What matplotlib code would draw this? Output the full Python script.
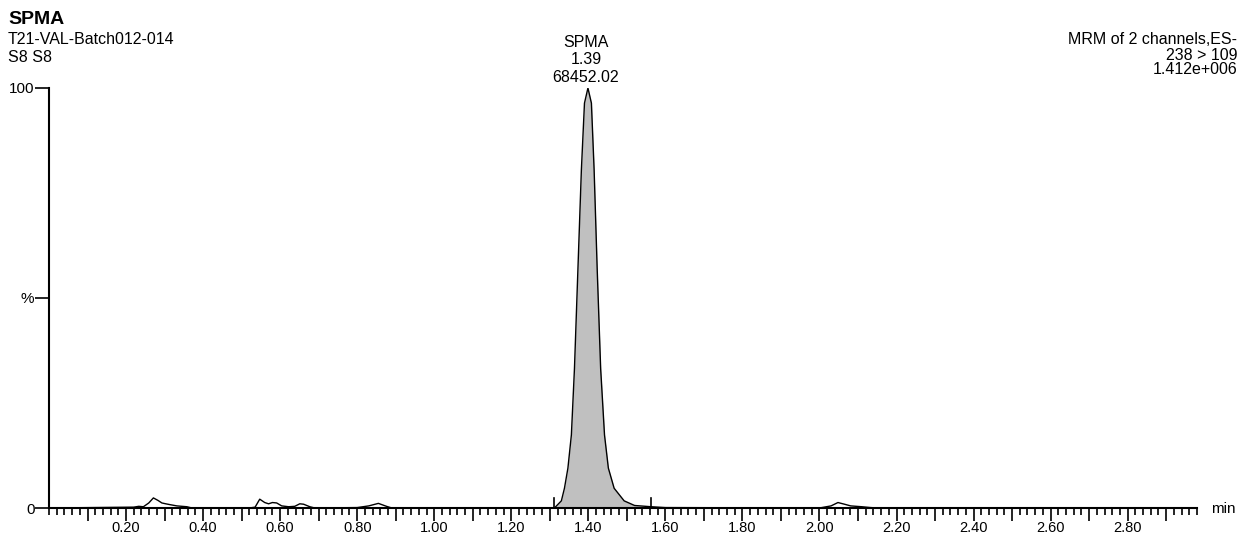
import numpy as np
import matplotlib
matplotlib.use("Agg")
import matplotlib.pyplot as plt
from matplotlib.ticker import MultipleLocator

plt.rcParams["font.family"] = ["Liberation Sans", "DejaVu Sans"]

# chromatogram trace: retention time (min) and relative intensity (%)
rt = [0.00, 0.22, 0.233, 0.245, 0.259, 0.271, 0.283, 0.293, 0.303, 0.314, 0.332,
      0.345, 0.358, 0.371, 0.52, 0.535, 0.547, 0.56, 0.570, 0.58, 0.591, 0.604,
      0.622, 0.638, 0.651, 0.661, 0.677, 0.69, 0.80, 0.83, 0.855, 0.876, 0.89,
      1.30, 1.312, 1.330, 1.338, 1.347, 1.356, 1.364, 1.373, 1.382, 1.390, 1.399,
      1.408, 1.415, 1.423, 1.432, 1.442, 1.452, 1.467, 1.493, 1.52, 1.563, 1.60,
      2.00, 2.03, 2.048, 2.065, 2.081, 2.11, 2.133, 2.15, 2.98]
intensity = [0.0, 0.2, 0.4, 0.3, 1.2, 2.4, 1.8, 1.2, 1.0, 0.8, 0.5,
             0.4, 0.3, 0.0, 0.0, 0.2, 2.1, 1.3, 1.0, 1.3, 1.2, 0.5,
             0.3, 0.4, 1.0, 0.9, 0.3, 0.0, 0.1, 0.5, 1.1, 0.4, 0.0,
             0.0, 0.0, 1.7, 4.7, 9.5, 17.4, 33.2, 56.9, 80.6, 96.4, 100.0,
             96.4, 80.6, 56.9, 33.2, 17.4, 9.5, 4.7, 1.7, 0.6, 0.3, 0.1,
             0.0, 0.5, 1.3, 0.9, 0.5, 0.3, 0.1, 0.0, 0.0]

peak_start, peak_end = 1.312, 1.563
peak_name = "SPMA"
peak_rt = "1.39"
peak_area = "68452.02"

compound = "SPMA"
sample_lines = ["T21-VAL-Batch012-014", "S8 S8"]
channel_lines = ["MRM of 2 channels,ES-", "238 > 109", "1.412e+006"]

x_labels = [0.20, 0.40, 0.60, 0.80, 1.00, 1.20, 1.40, 1.60, 1.80, 2.00,
            2.20, 2.40, 2.60, 2.80]

W, H = 1239, 536
fig = plt.figure(figsize=(W / 100, H / 100), dpi=100)
ax = fig.add_axes([49 / W, 28 / H, (1197 - 49) / W, 420 / H])

rt_a = np.array(rt)
it_a = np.array(intensity)
inpk = (rt_a >= peak_start) & (rt_a <= peak_end)
ax.fill_between(rt_a, 0, it_a, where=inpk, color="#c0c0c0", linewidth=0, zorder=1)
ax.plot(rt_a, it_a, color="black", linewidth=1.0, zorder=2)
# integration markers
for t in (peak_start, peak_end):
    ax.plot([t, t], [0, 2.3], color="black", linewidth=1.2, zorder=3)

ax.set_xlim(0, 2.98)
ax.set_ylim(0, 100)
for s in ("top", "right"):
    ax.spines[s].set_visible(False)
for s in ("left", "bottom"):
    ax.spines[s].set_linewidth(1.5)
    ax.spines[s].set_color("black")

major = np.round(np.arange(0.1, 2.98, 0.1), 2)
ax.set_xticks(major)
ax.xaxis.set_minor_locator(MultipleLocator(0.02))
ax.set_xticklabels([f"{v:.2f}" if any(abs(v - l) < 1e-6 for l in x_labels) else ""
                    for v in major])
ax.tick_params(axis="x", which="major", length=9, width=1.2, pad=0.5,
               labelsize=10.5, direction="out")
ax.tick_params(axis="x", which="minor", length=5, width=1.2, direction="out")

ax.set_yticks([0, 50, 100])
ax.set_yticklabels(["0", "%", "100"])
ax.tick_params(axis="y", length=10, width=1.2, pad=0.5, labelsize=11)

fig.text(1223 / W, 1 - 509 / H, "min", ha="center", va="center", fontsize=11)

# header texts
fig.text(8 / W, 1 - 19 / H, compound, ha="left", va="center", fontsize=14,
         fontweight="bold")
for i, s in enumerate(sample_lines):
    fig.text(8 / W, 1 - (40 + 17 * i) / H, s, ha="left", va="center", fontsize=11.5)
for i, s in enumerate([peak_name, peak_rt, peak_area]):
    fig.text(586 / W, 1 - (42 + 18 * i) / H, s, ha="center", va="center", fontsize=11.5)
for i, s in enumerate(channel_lines):
    fig.text(1237 / W, 1 - (40 + 15 * i) / H, s, ha="right", va="center", fontsize=11.5)

fig.savefig("out.png", dpi=100)
